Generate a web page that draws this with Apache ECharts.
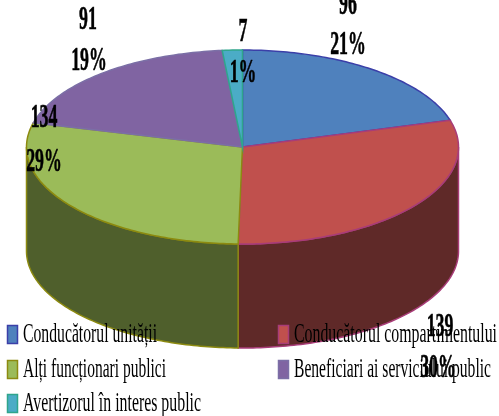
<!DOCTYPE html>
<html>
<head>
<meta charset="utf-8">
<style>html,body{margin:0;padding:0;background:#fff}#c{width:499px;height:416px}</style>
<script src="https://cdn.jsdelivr.net/npm/echarts@6/dist/echarts.min.js"></script>
</head>
<body>
<div id="c"></div>
<script>
const categories = ["Conducătorul unității","Conducătorul compartimentului","Alți funcționari publici","Beneficiari ai serviciului public","Avertizorul în interes public"];
const values = [96,139,134,91,7];
const percents = ["21%","30%","29%","19%","1%"];
const topColors = ["#4F81BD","#C0504D","#9BBB59","#8064A2","#4BACC6"];
const sideColors = ["#2F4D71","#5F2928","#4F5F2C","#4C3C61","#2D6776"];
const edgeColors = ["#3B3FA8","#A83C78","#8C8A10","#7B6FA6","#2FA58C"];
const valueLabelPos = [[348,5],[440,327],[44,118],[88,20],[243,32]];
const percentLabelPos = [[348,45],[438,368],[44,162],[89,61],[243,73]];
const legendPos = [[7,335],[278,335],[7,370],[278,370],[7,404]];
const legendWidths = [134,203,143,197,178];

const CX=242.5, CY=147, RX=216, RY=97, DEPTH=104;
const total = values.reduce((a,b)=>a+b,0);
const starts = []; let acc = 0;
values.forEach(v=>{starts.push(acc/total*360); acc+=v;});
const rim = (deg,dy)=>{const r=deg*Math.PI/180; return [CX+RX*Math.sin(r),CY-RY*Math.cos(r)+(dy||0)];};
function arc(a,b,dy){const pts=[];const n=Math.max(2,Math.ceil(Math.abs(b-a)));for(let i=0;i<=n;i++)pts.push(rim(a+(b-a)*i/n,dy));return pts;}

const chart = echarts.init(document.getElementById('c'),null,{renderer:'canvas'});
const idx = values.map((v,i)=>[i,v]);

function none(){return {type:'custom',coordinateSystem:'none',silent:true,animation:false};}
chart.setOption({
  animation:false,
  backgroundColor:'#fff',
  series:[
    Object.assign(none(),{name:'side',z:1,data:idx,renderItem(p,api){
      const i=api.value(0),a=starts[i],b=a+api.value(1)/total*360;
      const s=Math.max(a,90),e=Math.min(b,270);
      if(e<=s) return {type:'group',children:[]};
      const pts=arc(s,e,0).concat(arc(e,s,DEPTH));
      return {type:'polygon',shape:{points:pts},style:{fill:sideColors[i],stroke:edgeColors[i],lineWidth:1.5}};
    }}),
    Object.assign(none(),{name:'top',z:2,data:idx,renderItem(p,api){
      const i=api.value(0),a=starts[i],b=a+api.value(1)/total*360;
      const pts=[[CX,CY]].concat(arc(a,b,0));
      return {type:'polygon',shape:{points:pts},style:{fill:topColors[i],stroke:edgeColors[i],lineWidth:1.5}};
    }}),
    Object.assign(none(),{name:'labels',z:4,data:idx,renderItem(p,api){
      const i=api.value(0);
      const mk=(t,pos)=>({type:'text',x:pos[0],y:pos[1],scaleX:0.54,style:{text:t,x:0,y:0,fill:'#000',stroke:'#000',lineWidth:0.6,align:'center',verticalAlign:'middle',font:'bold 33px "Liberation Serif"'}});
      return {type:'group',children:[mk(String(api.value(1)),valueLabelPos[i]),mk(percents[i],percentLabelPos[i])]};
    }}),
    Object.assign(none(),{name:'legend',z:3,data:idx,renderItem(p,api){
      const i=api.value(0),pos=legendPos[i];
      const font='27px "Liberation Serif"';
      const ctx=document.createElement('canvas').getContext('2d');ctx.font=font;
      const sx=legendWidths[i]/ctx.measureText(categories[i]).width;
      return {type:'group',children:[
        {type:'rect',shape:{x:pos[0]+.5,y:pos[1]-9.5,width:10,height:18},style:{fill:topColors[i],stroke:edgeColors[i],lineWidth:1.5}},
        {type:'text',x:pos[0]+16,y:pos[1],scaleX:sx,style:{text:categories[i],x:0,y:0,fill:'#000',align:'left',verticalAlign:'middle',font}}
      ]};
    }})
  ]
});
</script>
</body>
</html>
